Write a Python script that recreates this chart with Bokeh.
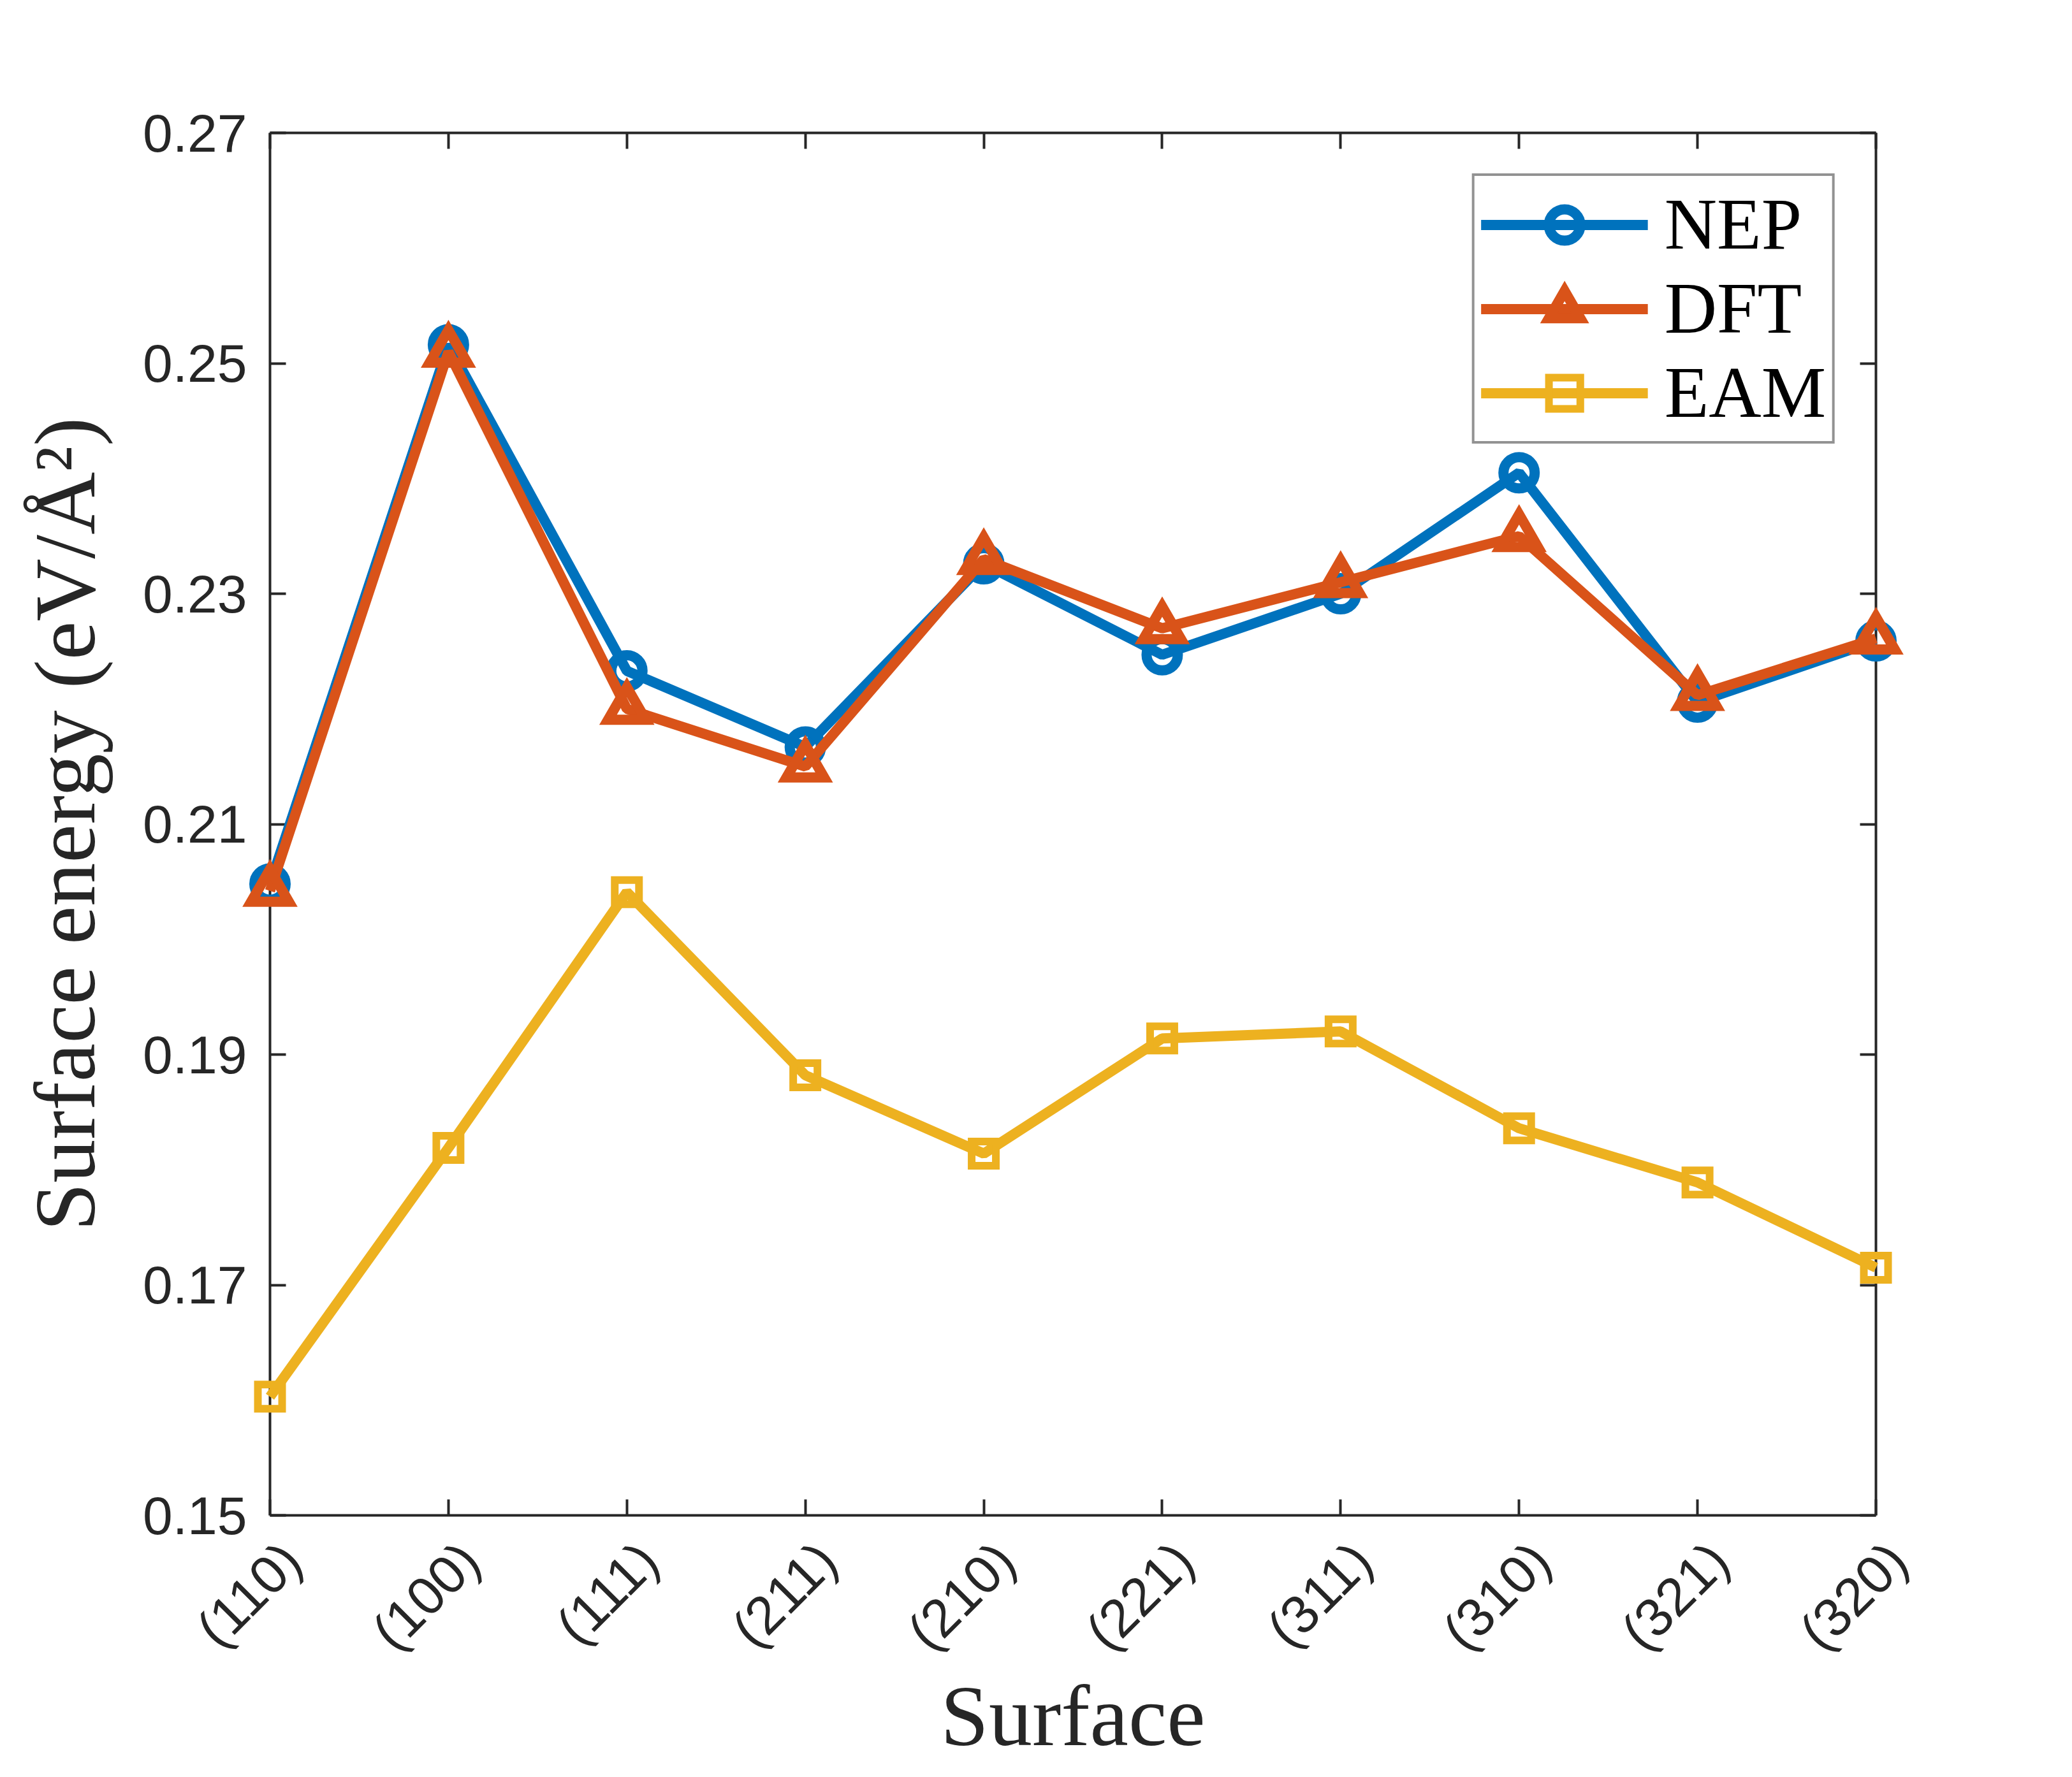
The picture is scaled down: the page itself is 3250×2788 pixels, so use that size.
import math
from bokeh.plotting import figure
from bokeh.models import (Range1d, FixedTicker, PrintfTickFormatter, LinearAxis,
                          Legend, LegendItem)
from bokeh.core.properties import value
from bokeh.embed import file_html
from bokeh.resources import INLINE

# ---- data ----
surfaces = ["(110)", "(100)", "(111)", "(211)", "(210)", "(221)", "(311)", "(310)", "(321)", "(320)"]
nep = [0.2048, 0.2516, 0.2233, 0.2167, 0.2326, 0.2247, 0.2300, 0.2405, 0.2206, 0.2259]
dft = [0.2042, 0.2510, 0.2200, 0.2150, 0.2330, 0.2270, 0.2310, 0.2350, 0.2212, 0.2261]
eam = [0.1603, 0.1819, 0.2041, 0.1882, 0.1814, 0.1914, 0.1920, 0.1836, 0.1789, 0.1715]
y_ticks = [0.15, 0.17, 0.19, 0.21, 0.23, 0.25, 0.27]
idx = list(range(len(surfaces)))

C_NEP = "#0072BD"
C_DFT = "#D95319"
C_EAM = "#EDB120"
AX = "#262626"

p = figure(frame_width=2519, frame_height=2169,
           min_border_left=423, min_border_right=292,
           min_border_top=208, min_border_bottom=395,
           x_range=Range1d(0, len(surfaces) - 1), y_range=Range1d(y_ticks[0], y_ticks[-1]),
           output_backend="svg", toolbar_location=None,
           background_fill_color="white", border_fill_color="white")
p.grid.visible = False
p.outline_line_color = None

xt = FixedTicker(ticks=idx)
yt = FixedTicker(ticks=y_ticks)

def style_axis(ax):
    ax.axis_line_color = AX
    ax.axis_line_width = 4
    ax.major_tick_line_color = AX
    ax.major_tick_line_width = 4
    ax.major_tick_in = 25
    ax.major_tick_out = 0
    ax.minor_tick_line_color = None
    ax.major_label_text_font = "Liberation Sans"
    ax.major_label_text_font_size = "84px"
    ax.major_label_text_color = AX
    ax.axis_label_text_font = "Liberation Serif"
    ax.axis_label_text_font_style = "normal"
    ax.axis_label_text_font_size = "136px"
    ax.axis_label_text_color = AX

xa = p.xaxis[0]
xa.ticker = xt
xa.major_label_overrides = {i: s for i, s in zip(idx, surfaces)}
xa.axis_label = "Surface"
style_axis(xa)
xa.major_label_text_color = None   # drawn below as text glyphs
xa.axis_label_standoff = 239

ya = p.yaxis[0]
ya.ticker = yt
ya.formatter = PrintfTickFormatter(format="%.2f")
ya.axis_label = "Surface energy (eV/Å²)"
style_axis(ya)
ya.major_label_standoff = 36
ya.axis_label_standoff = 44

top = LinearAxis(ticker=xt)
style_axis(top)
top.major_label_text_color = None
p.add_layout(top, "above")
right = LinearAxis(ticker=yt)
style_axis(right)
right.major_label_text_color = None
p.add_layout(right, "right")

# rotated category labels (MATLAB-style anchoring)
p.text(x=idx, y=[y_ticks[0]] * len(idx), text=surfaces, angle=math.pi / 4,
       x_offset=34, y_offset=57, text_align="right", text_baseline="middle",
       text_font=value("Liberation Sans"), text_font_size="84px",
       text_color=AX, level="overlay")

# ---- series ----
l1 = p.line(idx, nep, line_color=C_NEP, line_width=16, level="overlay")
m1 = p.scatter(idx, nep, marker="circle", size=49, fill_color=None,
               line_color=C_NEP, line_width=16, level="overlay")
l2 = p.line(idx, dft, line_color=C_DFT, line_width=16, level="overlay")
m2 = p.scatter(idx, dft, marker="triangle", size=59, fill_color=None,
               line_color=C_DFT, line_width=16, line_join="miter", level="overlay")
l3 = p.line(idx, eam, line_color=C_EAM, line_width=16, level="overlay")
m3 = p.scatter(idx, eam, marker="square", size=38, fill_color=None,
               line_color=C_EAM, line_width=12, line_join="miter", level="overlay")

legend = Legend(items=[LegendItem(label="NEP", renderers=[l1, m1]),
                       LegendItem(label="DFT", renderers=[l2, m2]),
                       LegendItem(label="EAM", renderers=[l3, m3])],
                location="top_right", margin=64,
                padding=10, spacing=0,
                glyph_width=262, glyph_height=123, label_height=123,
                label_standoff=26,
                label_text_font="Liberation Serif", label_text_font_size="114px",
                label_text_color="black",
                border_line_color=AX, border_line_width=4,
                background_fill_color="white", background_fill_alpha=1.0)
p.add_layout(legend, "center")

open("out.html", "w").write(file_html(p, INLINE))
